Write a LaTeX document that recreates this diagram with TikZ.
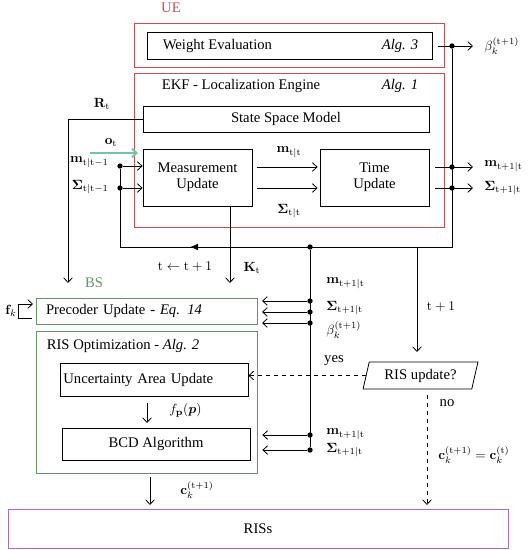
\documentclass[tikz,border=0pt]{standalone}
\usepackage{amsmath}
\usepackage{amssymb}
\usepackage[no-math]{fontspec}
\setmainfont{Liberation Serif}[Scale = 1.1]
\usetikzlibrary{arrows.meta,shapes.geometric}

\definecolor{uered}{RGB}{196,80,86}
\definecolor{bsgreen}{RGB}{104,146,104}
\definecolor{rispurple}{RGB}{168,112,178}
\definecolor{obsteal}{RGB}{110,196,172}

\begin{document}
\begin{tikzpicture}[x = 0.75pt, y = -0.75pt, line width = 0.6pt,
                    > = {Straight Barb[length = 3.5pt, width = 6.5pt]},
                    box/.style = {draw, inner sep = 0pt},
                    redbox/.style = {draw = uered, inner sep = 0pt},
                    gbox/.style = {draw = bsgreen, inner sep = 0pt},
                    dot/.style = {circle, fill = black, inner sep = 0pt, minimum size = 4pt}]
  \useasboundingbox (0,0) rectangle (530,550);

  % UE side
  \node [text = uered] (UElab) at (171,8) {UE};
  \node [redbox, minimum width = 232.5pt, minimum height = 33pt] (UE) at (289,45) {};
  \node [box, minimum width = 213.75pt, minimum height = 20.25pt] (WE) at (289.5,45.5) {};
  \node [right] (WElab) at (157.5,45.5) {Weight Evaluation};
  \node (WEalg) at (400,45.5) {\textit{Alg. 3}};

  \node [redbox, minimum width = 232.5pt, minimum height = 115.5pt] (EKF) at (289,150) {};
  \node [right] (EKFlab) at (156.5,86) {EKF - Localization Engine};
  \node (EKFalg) at (400,86) {\textit{Alg. 1}};
  \node [box, minimum width = 214.5pt, minimum height = 19.5pt] (SSM) at (286,119) {State Space Model};
  \node [box, minimum width = 81.75pt, minimum height = 42.75pt, align = center] (MU) at (197.5,177.5) {Measurement\\Update};
  \node [box, minimum width = 81.75pt, minimum height = 42.75pt, align = center] (TU) at (374.5,177.5) {Time\\Update};

  % BS side
  \node [text = bsgreen] (BSlab) at (94,283) {BS};
  \node [gbox, minimum height = 19.5pt, text width = 150.75pt, inner xsep = 7.5pt, align = left] (PU) at (146.5,311) {Precoder Update - \textit{Eq. 14}};
  \node [gbox, minimum width = 165.75pt, minimum height = 106.5pt] (RO) at (146.5,402) {};
  \node [right] (ROlab) at (41.5,346) {RIS Optimization - \textit{Alg. 2}};
  \node [box, minimum height = 24.75pt, text width = 136pt, inner xsep = 2.5pt, align = left] (UA) at (154,379.5) {Uncertainty Area Update};
  \node [box, minimum width = 141pt, minimum height = 24pt] (BCD) at (156,444) {BCD Algorithm};

  \node [draw, trapezium, trapezium left angle = 72, trapezium right angle = 108, trapezium stretches = true,
         minimum width = 86.25pt, minimum height = 20.25pt, inner sep = 0pt] (RU) at (420.5,375.5) {RIS update?};
  \node [draw = rispurple, minimum width = 375pt, minimum height = 29.25pt] (RIS) at (258,528.5) {RISs};

  % junctions
  \node [dot] (bd) at (452,46) {};
  \node [dot] (md) at (452,167) {};
  \node [dot] (sd) at (452,188) {};
  \node [dot] (mi) at (120,166) {};
  \node [dot] (si) at (120,188) {};
  \node [dot] (jd) at (310,247) {};
  \node [dot] (p1) at (310,301) {};
  \node [dot] (p2) at (310,312) {};
  \node [dot] (p3) at (310,323) {};
  \node [dot] (q1) at (310,435) {};
  \node [dot] (q2) at (310,450) {};
  \coordinate (lc) at (452,247);
  \coordinate (lc2) at (120,247);
  \coordinate (la) at (190,247);
  \coordinate (bo) at (473,46);
  \coordinate (mo) at (473,167);
  \coordinate (so) at (473,188);
  \coordinate (os) at (90,153);
  \coordinate (oe) at (138,153);
  \coordinate (re) at (68,283);
  \coordinate (ks) at (230,206);
  \coordinate (ke) at (230,283);
  \coordinate (ts) at (417,247);
  \coordinate (te) at (417,352);
  \coordinate (ns) at (427,395);
  \coordinate (ne) at (427,505);
  \coordinate (fs) at (147,403);
  \coordinate (fe) at (147,423);
  \coordinate (cs) at (150,477);
  \coordinate (ce) at (150,505);
  \coordinate (fk1) at (32,318);
  \coordinate (fk2) at (18,304);
  \coordinate (fk3) at (33,304);

  % labels
  \node [right] at (479,46) {$\beta_k^{(\mathrm{t}+1)}$};
  \node (Rt) at (102,104) {$\mathbf{R}_\mathrm{t}$};
  \node (ot) at (111,143) {$\mathbf{o}_\mathrm{t}$};
  \node [left] at (114,162) {$\mathbf{m}_{\mathrm{t}|\mathrm{t}-1}$};
  \node [left] at (114,187) {$\boldsymbol{\Sigma}_{\mathrm{t}|\mathrm{t}-1}$};
  \node at (289,152) {$\mathbf{m}_{\mathrm{t}|\mathrm{t}}$};
  \node at (289,211) {$\boldsymbol{\Sigma}_{\mathrm{t}|\mathrm{t}}$};
  \node [right] at (479,166) {$\mathbf{m}_{\mathrm{t}+1|\mathrm{t}}$};
  \node [right] at (479,188) {$\boldsymbol{\Sigma}_{\mathrm{t}+1|\mathrm{t}}$};
  \node at (185,267) {$\mathrm{t} \leftarrow \mathrm{t}+1$};
  \node at (252,268) {$\mathbf{K}_\mathrm{t}$};
  \node [right] at (321,283) {$\mathbf{m}_{\mathrm{t}+1|\mathrm{t}}$};
  \node [right] at (321,308) {$\boldsymbol{\Sigma}_{\mathrm{t}+1|\mathrm{t}}$};
  \node [right] at (321,330) {$\beta_k^{(\mathrm{t}+1)}$};
  \node at (441,307) {$\mathrm{t}+1$};
  \node at (334,361) {yes};
  \node at (447,403) {no};
  \node [right] at (164,410) {$f_{\mathbf{p}}(\boldsymbol{p})$};
  \node [right] at (321,434) {$\mathbf{m}_{\mathrm{t}+1|\mathrm{t}}$};
  \node [right] at (321,450) {$\boldsymbol{\Sigma}_{\mathrm{t}+1|\mathrm{t}}$};
  \node [right] at (175,490) {$\mathbf{c}_k^{(\mathrm{t}+1)}$};
  \node [right] at (433,455) {$\mathbf{c}_k^{(\mathrm{t}+1)} = \mathbf{c}_k^{(\mathrm{t})}$};
  \node (fk) at (11,311) {$\mathbf{f}_k$};

  % connectors
  \draw [->, shorten <= 4.5pt] (WE.east |- bd) -- (bo);
  \draw [->, obsteal, line width = 1.4pt] (os) -- (oe);
  \draw [->] (SSM.west) -| (re);
  \draw [->] (mi) -- (MU.west |- mi);
  \draw [->] (si) -- (MU.west |- si);
  \draw [->, shorten <= 3.5pt, shorten >= 1.5pt] (MU.east |- md) -- (TU.west |- md);
  \draw [->, shorten <= 3.5pt, shorten >= 1.5pt] (MU.east |- sd) -- (TU.west |- sd);
  \draw [->, shorten <= 4.5pt] (TU.east |- md) -- (mo);
  \draw [->, shorten <= 4.5pt] (TU.east |- sd) -- (so);
  \draw (bd) -- (lc) -- (lc2) -- (mi);
  \draw [-{Latex[length = 6pt, width = 5pt]}] (jd) -- (la);
  \draw [->] (ks) -- (ke);
  \draw (jd) -- (q2);
  \draw [->] (ts) -- (te);
  \draw [->, shorten >= 3.5pt] (p1) -- (PU.east |- p1);
  \draw [->, shorten >= 3.5pt] (p2) -- (PU.east |- p2);
  \draw [->, shorten >= 3.5pt] (p3) -- (PU.east |- p3);
  \draw [->, shorten >= 9pt] (q1) -- (BCD.east |- q1);
  \draw [->, shorten >= 9pt] (q2) -- (BCD.east |- q2);
  \draw [->, dashed] (RU.west) -- (UA.east |- RU.west);
  \draw [->, dashed] (ns) -- (ne);
  \draw [->] (fs) -- (fe);
  \draw [->] (cs) -- (ce);
  \draw [->] (fk1) -- (fk1 -| fk2) -- (fk2) -- (fk3);
\end{tikzpicture}
\end{document}
